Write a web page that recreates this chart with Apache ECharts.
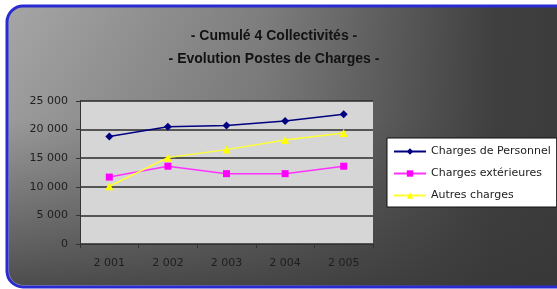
<!DOCTYPE html>
<html>
<head>
<meta charset="utf-8">
<script src="https://cdn.jsdelivr.net/npm/echarts@6/dist/echarts.min.js"></script>
<style>
  html, body { margin: 0; padding: 0; background: #ffffff; }
  #chart { width: 557px; height: 289px; }
</style>
</head>
<body>
<div id="chart"></div>
<script>
var years = ["2 001", "2 002", "2 003", "2 004", "2 005"];
var chargesPersonnel = [18800, 20500, 20700, 21500, 22700];
var chargesExterieures = [11700, 13600, 12300, 12300, 13600];
var autresCharges = [10100, 15100, 16500, 18200, 19400];
var seriesNames = ["Charges de Personnel", "Charges extérieures", "Autres charges"];

var chartDom = document.getElementById("chart");
var myChart = echarts.init(chartDom);
var option;

var font = "DejaVu Sans";

function fmt(v) {
  // thousands separated with a space
  return String(v).replace(/\B(?=(\d{3})+(?!\d))/g, " ");
}

option = {
  backgroundColor: "#ffffff",
  animation: false,
  graphic: [
    {
      type: "rect",
      z: -10,
      shape: { x: 7, y: 6, width: 570, height: 281, r: 16 },
      style: {
        fill: {
          type: "linear", x: 0, y: 0, x2: 1, y2: 0,
          colorStops: [
            { offset: 0, color: "#a6a6a6" },
            { offset: 0.45, color: "#7e7e7e" },
            { offset: 0.85, color: "#404040" },
            { offset: 1, color: "#3a3a3a" }
          ]
        },
        stroke: "#2a2ad2",
        lineWidth: 3
      }
    },
    {
      type: "rect",
      z: -9,
      shape: { x: 9, y: 8, width: 566, height: 277, r: 14 },
      style: {
        fill: {
          type: "linear", x: 0, y: 0, x2: 0, y2: 1,
          colorStops: [
            { offset: 0, color: "rgba(60,60,60,0)" },
            { offset: 0.4, color: "rgba(60,60,60,0.1)" },
            { offset: 1, color: "rgba(55,55,55,0.8)" }
          ]
        }
      }
    }
  ],
  title: {
    text: "- Cumulé 4 Collectivités -\n- Evolution Postes de Charges -",
    left: 269,
    textAlign: "center",
    top: 20,
    textStyle: {
      fontFamily: "Liberation Sans",
      fontWeight: "bold",
      fontSize: 14,
      lineHeight: 23,
      color: "#121212"
    }
  },
  legend: {
    data: seriesNames,
    orient: "vertical",
    left: 387,
    top: 138,
    backgroundColor: "#ffffff",
    borderColor: "#111111",
    borderWidth: 1,
    padding: [8, 6, 6, 6],
    itemWidth: 32,
    itemHeight: 8,
    itemGap: 11,
    textStyle: { fontFamily: font, fontSize: 11, color: "#222222" }
  },
  grid: {
    left: 80,
    right: 184,
    top: 101,
    bottom: 45,
    show: true,
    backgroundColor: "#d6d6d6",
    borderWidth: 0
  },
  xAxis: {
    type: "category",
    data: years,
    boundaryGap: true,
    axisLine: { lineStyle: { color: "#333333", width: 1 } },
    axisTick: { show: true, length: 4, lineStyle: { color: "#333333" } },
    axisLabel: { margin: 14, fontFamily: font, fontSize: 11, color: "#1e1e1e" }
  },
  yAxis: {
    type: "value",
    min: 0,
    max: 25000,
    interval: 5000,
    axisLine: { show: true, lineStyle: { color: "#333333" } },
    axisTick: { show: true, length: 4, lineStyle: { color: "#333333" } },
    axisLabel: { margin: 12, fontFamily: font, fontSize: 11, color: "#1e1e1e", formatter: fmt },
    splitLine: { lineStyle: { color: "#2a2a2a", width: 1.5 } }
  },
  series: [
    {
      name: seriesNames[0],
      type: "line",
      data: chargesPersonnel,
      symbol: "diamond",
      symbolSize: 8,
      lineStyle: { color: "#000080", width: 1.5 },
      itemStyle: { color: "#000080" }
    },
    {
      name: seriesNames[1],
      type: "line",
      data: chargesExterieures,
      symbol: "rect",
      symbolSize: 7,
      lineStyle: { color: "#ff33ff", width: 1.5 },
      itemStyle: { color: "#ff00ff" }
    },
    {
      name: seriesNames[2],
      type: "line",
      data: autresCharges,
      symbol: "triangle",
      symbolSize: 8,
      lineStyle: { color: "#ffff33", width: 1.5 },
      itemStyle: { color: "#ffff00" }
    }
  ]
};

option && myChart.setOption(option);
</script>
</body>
</html>
